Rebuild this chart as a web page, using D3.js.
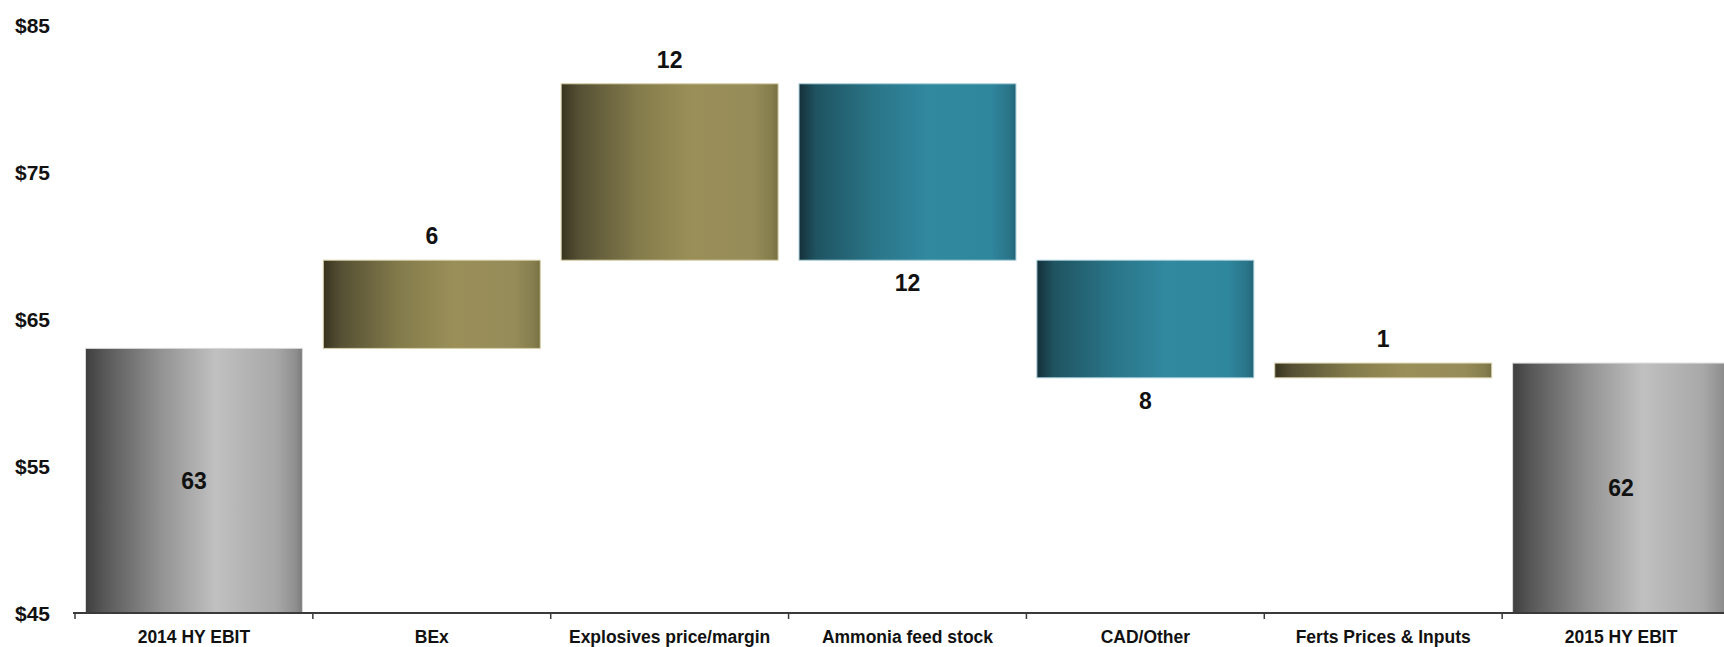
<!DOCTYPE html>
<html>
<head>
<meta charset="utf-8">
<script src="https://cdn.jsdelivr.net/npm/d3@7"></script>
<style>
  html, body { margin: 0; padding: 0; background: #ffffff; }
  svg { display: block; }
  text { font-family: "Liberation Sans", Arial, sans-serif; font-weight: bold; fill: #111; }
</style>
</head>
<body>
<svg id="chart" width="1724" height="647"></svg>
<script>
// EBIT bridge, $m
const categories = ["2014 HY EBIT", "BEx", "Explosives price/margin", "Ammonia feed stock", "CAD/Other", "Ferts Prices & Inputs", "2015 HY EBIT"];
const values = [63, 6, 12, -12, -8, 1, 62];
const isTotal = [true, false, false, false, false, false, true];
const yTicks = [45, 55, 65, 75, 85];

const svg = d3.select("#chart");
const W = 1724, H = 647;

const x = d3.scaleBand()
  .domain(categories)
  .range([75, 1740])
  .paddingInner(0.088)
  .paddingOuter(0.044);

const y = d3.scaleLinear().domain([45, 85]).range([613, 25]);

// running totals for the floating steps
let running = 0;
const bars = categories.map((c, i) => {
  const v = values[i];
  let lo, hi, kind;
  if (isTotal[i]) {
    lo = 45; hi = v; running = v; kind = "total";
  } else {
    const start = running;
    running = start + v;
    lo = Math.min(start, running); hi = Math.max(start, running);
    kind = v >= 0 ? "up" : "down";
  }
  return { c, v, lo, hi, kind };
});

// horizontal shading gradients
const defs = svg.append("defs");
const gradients = {
  total: [[0, "#3e3e3e"], [0.08, "#565656"], [0.35, "#939393"], [0.6, "#c0c0c0"], [0.88, "#a8a8a8"], [0.97, "#8e8e8e"], [1, "#7a7a7a"]],
  up:    [[0, "#38331e"], [0.08, "#555034"], [0.35, "#837b4b"], [0.6, "#9a8f58"], [0.88, "#968c5a"], [0.97, "#857d4c"], [1, "#766f44"]],
  down:  [[0, "#14303a"], [0.08, "#1f5461"], [0.35, "#2a7588"], [0.6, "#3189a0"], [0.88, "#2f879e"], [0.97, "#2a7488"], [1, "#23647a"]]
};
const strokes = { total: "#d8d8d8", up: "#d6cfa8", down: "#a9cfdb" };
Object.entries(gradients).forEach(([k, stops]) => {
  const g = defs.append("linearGradient").attr("id", "grad-" + k)
    .attr("x1", "0%").attr("x2", "100%").attr("y1", "0%").attr("y2", "0%");
  stops.forEach(([o, col]) => g.append("stop").attr("offset", o).attr("stop-color", col));
});

// bars
svg.append("g").selectAll("rect").data(bars).join("rect")
  .attr("x", d => x(d.c))
  .attr("y", d => y(d.hi))
  .attr("width", x.bandwidth())
  .attr("height", d => y(d.lo) - y(d.hi))
  .attr("fill", d => "url(#grad-" + d.kind + ")")
  .attr("stroke", d => strokes[d.kind])
  .attr("stroke-width", 1);

// value labels
svg.append("g").selectAll("text").data(bars).join("text")
  .attr("x", d => x(d.c) + x.bandwidth() / 2)
  .attr("y", d => {
    if (d.kind === "total") return (y(d.lo) + y(d.hi)) / 2;
    if (d.kind === "up") return y(d.hi) - 24;
    return y(d.lo) + 23;
  })
  .attr("text-anchor", "middle")
  .attr("dominant-baseline", "central")
  .style("font-size", "23px")
  .text(d => Math.abs(d.v));

// x axis baseline with ticks at category boundaries
const axis = svg.append("g");
axis.append("line")
  .attr("x1", 73).attr("x2", W)
  .attr("y1", y(45)).attr("y2", y(45))
  .attr("stroke", "#3a3a3a").attr("stroke-width", 2);
const bounds = d3.range(categories.length + 1).map(i => x.range()[0] + i * x.step());
axis.selectAll("line.tick").data(bounds).join("line")
  .attr("class", "tick")
  .attr("x1", d => d).attr("x2", d => d)
  .attr("y1", y(45)).attr("y2", y(45) + 6)
  .attr("stroke", "#3a3a3a").attr("stroke-width", 1.5);
axis.selectAll("text").data(categories).join("text")
  .attr("x", d => x(d) + x.bandwidth() / 2)
  .attr("y", 643)
  .attr("text-anchor", "middle")
  .style("font-size", "17.5px")
  .text(d => d);

// y tick labels
svg.append("g").selectAll("text").data(yTicks).join("text")
  .attr("x", 15)
  .attr("y", d => y(d))
  .attr("dominant-baseline", "central")
  .style("font-size", "21px")
  .text(d => "$" + d);
</script>
</body>
</html>
